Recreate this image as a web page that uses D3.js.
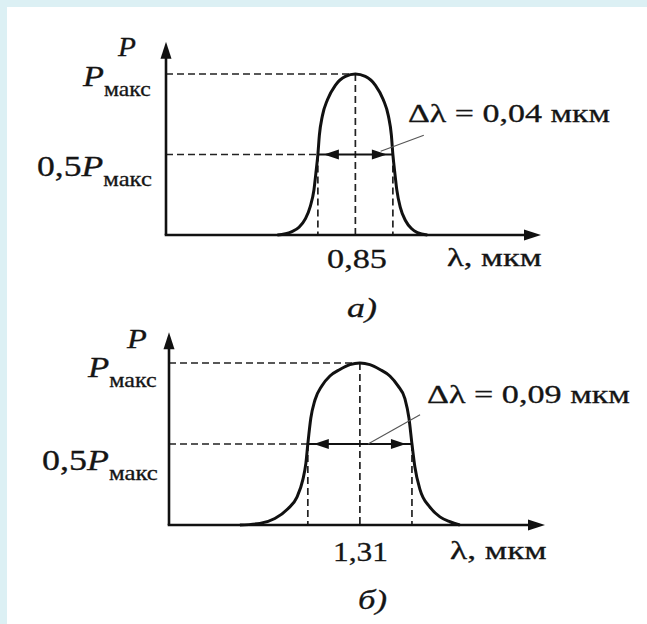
<!DOCTYPE html>
<html>
<head>
<meta charset="utf-8">
<script src="https://cdn.jsdelivr.net/npm/d3@7"></script>
<style>
  body { margin: 0; background: #fff; }
  text { font-family: "Liberation Serif", "Times New Roman", serif; fill: #151515; stroke: #151515; stroke-width: 0.3px; }
</style>
</head>
<body>
<svg id="chart" width="647" height="624"></svg>
<script>
var width = 647, height = 624;

// spectrum a) around 0,85 mkm (P relative to Pmax)
var lamA = [0.8084, 0.8159, 0.8201, 0.8233, 0.826, 0.8279, 0.8289, 0.830, 0.8308, 0.8324, 0.8351, 0.8393, 0.8447, 0.85,
            0.8553, 0.8607, 0.8649, 0.8676, 0.8692, 0.870, 0.8711, 0.8721, 0.874, 0.8767, 0.8799, 0.8831, 0.8884];
var powA = [0, 0.02, 0.05, 0.1, 0.18, 0.28, 0.38, 0.5, 0.62, 0.74, 0.84, 0.93, 0.985, 1,
            0.985, 0.93, 0.84, 0.74, 0.62, 0.5, 0.38, 0.28, 0.17, 0.09, 0.04, 0.015, 0];

// spectrum b) around 1,31 mkm
var lamB = [1.2063, 1.2236, 1.2365, 1.2478, 1.2555, 1.2607, 1.2633, 1.265, 1.2676, 1.2711, 1.2772, 1.2841, 1.2927, 1.3014, 1.31,
            1.3186, 1.3273, 1.3359, 1.3428, 1.3489, 1.3524, 1.355, 1.3575, 1.3619, 1.3705, 1.3792, 1.3878, 1.3964];
var powB = [0, 0.01, 0.04, 0.1, 0.17, 0.28, 0.38, 0.5, 0.66, 0.77, 0.86, 0.92, 0.96, 0.99, 1,
            0.99, 0.96, 0.92, 0.86, 0.78, 0.66, 0.5, 0.36, 0.22, 0.11, 0.05, 0.02, 0];

var centers = [0.85, 1.31];
var fwhm = [0.04, 0.09];
var centerLabels = ["0,85", "1,31"];
var widthLabels = ["Δλ = 0,04 мкм", "Δλ = 0,09 мкм"];
var panelLabels = ["а)", "б)"];
var axisLabel = "λ, мкм";

var svg = d3.select("#chart");

// light blue frame (top and left) like the screenshot
svg.append("rect").attr("x", 0).attr("y", 0).attr("width", width).attr("height", height).attr("fill", "#ffffff");
svg.append("rect").attr("x", 0).attr("y", 0).attr("width", width).attr("height", 7).attr("fill", "#dcf0f4");
svg.append("rect").attr("x", 0).attr("y", 0).attr("width", 7).attr("height", height).attr("fill", "#dcf0f4");

var panels = [
    { lam: lamA, pow: powA, dom: [0.749, 0.949], xr: [166, 541], yr: [235, 74], yTop: 1.2,
      pLab: [118, 56, 19], pmaxLab: [83, 86, 69], halfLab: [37, 176, 115],
      dlLab: [408, 122, 202], cLab: [327, 268, 60], axLab: [447, 266, 95], panLab: [347, 317, 30],
      leader: [[0.8865, 0.62], [0.8635, 0.52]] },
    { lam: lamB, pow: powB, dom: [1.145, 1.47], xr: [169, 545], yr: [525, 363], yTop: 1.19,
      pLab: [127, 348, 21], pmaxLab: [88, 377, 70], halfLab: [42, 470, 116],
      dlLab: [427, 403, 203], cLab: [333, 561, 55], axLab: [450, 559, 97], panLab: [358, 609, 29],
      leader: [[1.362, 0.68], [1.317, 0.5]] }
];

// put text at (x, baseline) and squeeze/stretch it to the width seen in the picture
function fit(t, x, y, w) {
    var bw = t.node().getBBox().width;
    t.attr("transform", "translate(" + x + "," + y + ") scale(" + (w / bw) + ",1)");
}

function arrowHead(g, tipX, tipY, dir, len, half) {
    var p;
    if (dir === "up") p = [[tipX, tipY], [tipX - half, tipY + len], [tipX + half, tipY + len]];
    else if (dir === "right") p = [[tipX, tipY], [tipX - len, tipY - half], [tipX - len, tipY + half]];
    else p = [[tipX, tipY], [tipX + len, tipY - half], [tipX + len, tipY + half]];
    g.append("path").attr("d", "M" + p.join("L") + "Z").attr("fill", "#111");
}

panels.forEach(function(pn, i) {
    var g = svg.append("g");
    var x = d3.scaleLinear().domain(pn.dom).range(pn.xr);
    var y = d3.scaleLinear().domain([0, 1]).range(pn.yr);

    var x0 = x(pn.dom[0]), y0 = y(0);
    var xc = x(centers[i]);
    var xl = x(centers[i] - fwhm[i] / 2), xh = x(centers[i] + fwhm[i] / 2);

    // dashed guides
    var guides = g.append("g").attr("stroke", "#222").attr("stroke-width", 1.7).attr("stroke-dasharray", "7,4");
    guides.append("line").attr("x1", x0).attr("x2", xc).attr("y1", y(1)).attr("y2", y(1));
    guides.append("line").attr("x1", x0).attr("x2", xl).attr("y1", y(0.5)).attr("y2", y(0.5));
    guides.append("line").attr("x1", xc).attr("x2", xc).attr("y1", y(1)).attr("y2", y0);
    guides.append("line").attr("x1", xl).attr("x2", xl).attr("y1", y(0.5)).attr("y2", y0);
    guides.append("line").attr("x1", xh).attr("x2", xh).attr("y1", y(0.5)).attr("y2", y0);

    // axes
    g.append("line").attr("x1", x0).attr("x2", x0).attr("y1", y0).attr("y2", y(pn.yTop) + 10)
        .attr("stroke", "#111").attr("stroke-width", 2.6);
    g.append("line").attr("x1", x0 - 1.3).attr("x2", pn.xr[1] - 10).attr("y1", y0).attr("y2", y0)
        .attr("stroke", "#111").attr("stroke-width", 2.6);
    arrowHead(g, x0, y(pn.yTop), "up", 17, 5.5);
    arrowHead(g, pn.xr[1], y0, "right", 17, 5.5);

    // spectrum curve
    var pts = pn.lam.map(function(d, k) { return [d, pn.pow[k]]; });
    var line = d3.line()
        .x(function(d) { return x(d[0]); })
        .y(function(d) { return y(d[1]); })
        .curve(d3.curveMonotoneX);
    g.append("path").datum(pts).attr("d", line)
        .attr("fill", "none").attr("stroke", "#111").attr("stroke-width", 3);

    // width arrow at half maximum
    g.append("line").attr("x1", xl).attr("x2", xh).attr("y1", y(0.5)).attr("y2", y(0.5))
        .attr("stroke", "#111").attr("stroke-width", 1.8);
    arrowHead(g, xl + 6, y(0.5), "left", 15, 5);
    arrowHead(g, xh - 6, y(0.5), "right", 15, 5);

    // leader to the label
    g.append("line")
        .attr("x1", x(pn.leader[0][0])).attr("y1", y(pn.leader[0][1]))
        .attr("x2", x(pn.leader[1][0])).attr("y2", y(pn.leader[1][1]))
        .attr("stroke", "#555").attr("stroke-width", 1.1);

    // texts
    var t;
    t = g.append("text").style("font-size", "28px").style("font-style", "italic").text("P");
    fit(t, pn.pLab[0], pn.pLab[1], pn.pLab[2]);

    t = g.append("text").style("font-size", "29px");
    t.append("tspan").style("font-style", "italic").text("P");
    t.append("tspan").attr("dy", 10).style("font-size", "20px").text("макс");
    fit(t, pn.pmaxLab[0], pn.pmaxLab[1], pn.pmaxLab[2]);

    t = g.append("text").style("font-size", "29px");
    t.append("tspan").text("0,5");
    t.append("tspan").style("font-style", "italic").text("P");
    t.append("tspan").attr("dy", 10).style("font-size", "20px").text("макс");
    fit(t, pn.halfLab[0], pn.halfLab[1], pn.halfLab[2]);

    t = g.append("text").style("font-size", "26px").text(widthLabels[i]);
    fit(t, pn.dlLab[0], pn.dlLab[1], pn.dlLab[2]);

    t = g.append("text").style("font-size", "28px").text(centerLabels[i]);
    fit(t, pn.cLab[0], pn.cLab[1], pn.cLab[2]);

    t = g.append("text").style("font-size", "25px").text(axisLabel);
    fit(t, pn.axLab[0], pn.axLab[1], pn.axLab[2]);

    t = g.append("text").style("font-size", "28px").style("font-style", "italic").text(panelLabels[i]);
    fit(t, pn.panLab[0], pn.panLab[1], pn.panLab[2]);
});
</script>
</body>
</html>
